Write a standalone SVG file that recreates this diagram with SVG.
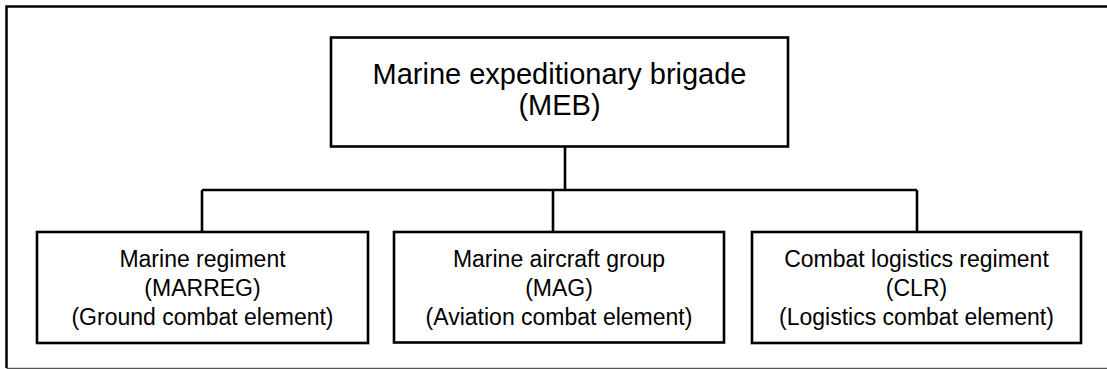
<svg xmlns="http://www.w3.org/2000/svg" width="1107" height="369" viewBox="0 0 1107 369">
  <style>
    .frame { fill: none; stroke: #000; stroke-width: 2.5; }
    .base { fill: none; stroke: #555; stroke-width: 1.2; }
    .box { fill: #fff; stroke: #000; stroke-width: 2.6; }
    .link { fill: none; stroke: #000; stroke-width: 2.6; }
    .big { font-family: "Liberation Sans", Arial, sans-serif; font-size: 29px; fill: #000; text-anchor: middle; }
    .small { font-family: "Liberation Sans", Arial, sans-serif; font-size: 23px; fill: #000; text-anchor: middle; }
  </style>

  <!-- outer frame: heavy top and left edges, thin base line, open to the right -->
  <path class="frame" d="M1107,6.5 H6.5 V368"/>
  <path class="base" d="M6.5,368.4 H1107"/>

  <g id="connectors">
    <path class="link" d="M565,147 V190"/>
    <path class="link" d="M202,190 H917"/>
    <path class="link" d="M202,190 V232"/>
    <path class="link" d="M553,190 V232"/>
    <path class="link" d="M917,190 V232"/>
  </g>

  <g id="meb">
    <rect class="box" x="331" y="37.5" width="457" height="109"/>
    <text class="big" x="559.5" y="83.5">Marine expeditionary brigade</text>
    <text class="big" x="559.5" y="115">(MEB)</text>
  </g>

  <g id="marreg">
    <rect class="box" x="37" y="232" width="331" height="111"/>
    <text class="small" x="202.5" y="267">Marine regiment</text>
    <text class="small" x="202.5" y="296">(MARREG)</text>
    <text class="small" x="202.5" y="324.5">(Ground combat element)</text>
  </g>

  <g id="mag">
    <rect class="box" x="394" y="232" width="330" height="110.5"/>
    <text class="small" x="559" y="267">Marine aircraft group</text>
    <text class="small" x="559" y="296">(MAG)</text>
    <text class="small" x="559" y="324.5">(Aviation combat element)</text>
  </g>

  <g id="clr">
    <rect class="box" x="752" y="232" width="329" height="111"/>
    <text class="small" x="916.5" y="267">Combat logistics regiment</text>
    <text class="small" x="916.5" y="296">(CLR)</text>
    <text class="small" x="916.5" y="324.5">(Logistics combat element)</text>
  </g>
</svg>
